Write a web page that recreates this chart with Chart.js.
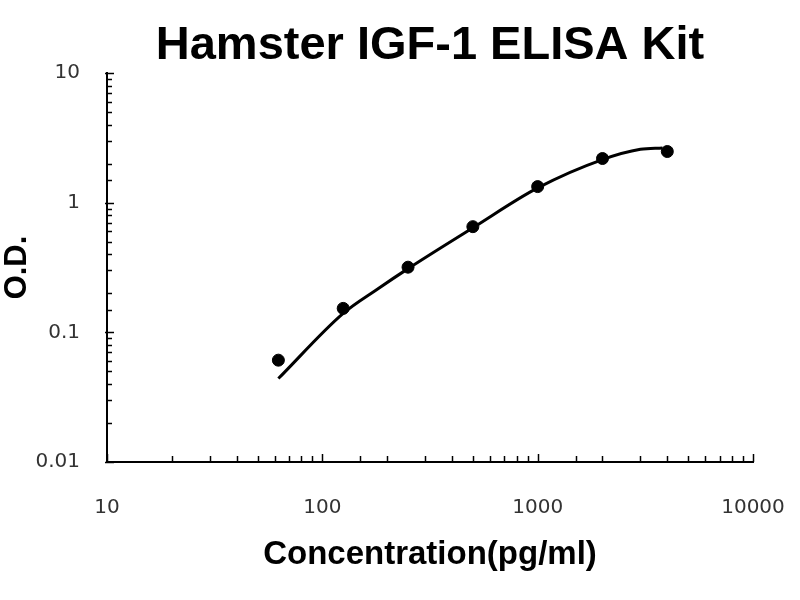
<!DOCTYPE html>
<html>
<head>
<meta charset="utf-8">
<script src="https://cdn.jsdelivr.net/npm/chart.js@4"></script>
<style>
  html, body { margin: 0; padding: 0; background: #fff; }
  #wrap { width: 800px; height: 600px; }
</style>
</head>
<body>
<div id="wrap"><canvas id="std-curve" width="800" height="600"></canvas></div>
<script>
// standard points (concentration pg/ml vs O.D.)
const concentrations = [62.5, 125, 250, 500, 1000, 2000, 4000];
const odValues = [0.061, 0.153, 0.318, 0.653, 1.33, 2.19, 2.48];

// fitted curve
const fitConc = [62.5, 125, 180, 250, 500, 1000, 2000, 3000, 3800];
const fitOd = [0.044, 0.14, 0.215, 0.31, 0.64, 1.30, 2.15, 2.58, 2.64];

const xTickLabels = [10, 100, 1000, 10000];
const yTickLabels = [0.01, 0.1, 1, 10];

const fontFamily = '"Liberation Sans", Arial, sans-serif';
const tickFont = '"DejaVu Sans", sans-serif';

// draw the small inward tick marks of both log axes
const inwardTicks = {
  id: 'inwardTicks',
  afterDraw(chart) {
    const ctx = chart.ctx;
    const xs = chart.scales.x;
    const ys = chart.scales.y;
    const area = chart.chartArea;
    ctx.save();
    ctx.strokeStyle = '#000';
    ctx.lineWidth = 1.5;
    xs.ticks.forEach((t) => {
      const px = Math.round(xs.getPixelForValue(t.value)) + 0.5;
      const len = xTickLabels.includes(t.value) ? 8 : 6;
      ctx.beginPath();
      ctx.moveTo(px, area.bottom);
      ctx.lineTo(px, area.bottom - len);
      ctx.stroke();
    });
    ys.ticks.forEach((t) => {
      const py = Math.round(ys.getPixelForValue(t.value)) + 0.5;
      const major = yTickLabels.includes(t.value);
      ctx.beginPath();
      ctx.moveTo(area.left - (major ? 2 : 0), py);
      ctx.lineTo(area.left + (major ? 7 : 5), py);
      ctx.stroke();
    });
    ctx.restore();
  }
};

const ctx = document.getElementById('std-curve').getContext('2d');
const chart = new Chart(ctx, {
  type: 'scatter',
  data: {
    datasets: [
      {
        label: 'Fit',
        data: fitConc.map((c, i) => ({ x: c, y: fitOd[i] })),
        showLine: true,
        borderColor: '#000',
        borderWidth: 3,
        pointRadius: 0,
        cubicInterpolationMode: 'monotone',
        fill: false,
      },
      {
        label: 'Standard',
        data: concentrations.map((c, i) => ({ x: c, y: odValues[i] })),
        showLine: false,
        backgroundColor: '#000',
        borderColor: '#000',
        pointRadius: 6,
      },
    ],
  },
  options: {
    responsive: false,
    animation: false,
    layout: { padding: { left: 0, right: 0, top: 0, bottom: 0 } },
    plugins: {
      legend: { display: false },
      tooltip: { enabled: false },
      title: {
        display: true,
        fullSize: false,
        text: 'Hamster IGF-1 ELISA Kit',
        color: '#000',
        font: { family: fontFamily, size: 47, weight: 'bold', lineHeight: 1 },
        padding: { top: 23, bottom: 3 },
      },
    },
    scales: {
      x: {
        type: 'logarithmic',
        min: 10,
        max: 10000,
        grid: { display: false, drawTicks: false },
        border: { display: true, color: '#000', width: 2 },
        afterFit: (scale) => {
          scale.height = 138;
          scale.paddingRight = 47;
        },
        ticks: {
          color: '#333',
          padding: 34,
          maxRotation: 0,
          autoSkip: false,
          font: { family: tickFont, size: 20 },
          callback: (v) => (xTickLabels.includes(v) ? String(v) : ''),
        },
        title: {
          display: true,
          text: 'Concentration(pg/ml)',
          color: '#000',
          font: { family: fontFamily, size: 33, weight: 'bold' },
          padding: { top: 0, bottom: 25 },
        },
      },
      y: {
        type: 'logarithmic',
        min: 0.01,
        max: 10,
        grid: { display: false, drawTicks: false },
        border: { display: true, color: '#000', width: 2 },
        afterFit: (scale) => { scale.width = 107; },
        ticks: {
          color: '#333',
          padding: 27,
          autoSkip: false,
          font: { family: tickFont, size: 20 },
          callback: (v) => (yTickLabels.includes(v) ? String(v) : ''),
        },
        title: {
          display: true,
          text: 'O.D.',
          color: '#000',
          font: { family: fontFamily, size: 31, weight: 'bold', lineHeight: 1.1 },
          padding: { top: 0, bottom: 0 },
        },
      },
    },
  },
  plugins: [inwardTicks],
});
</script>
</body>
</html>
